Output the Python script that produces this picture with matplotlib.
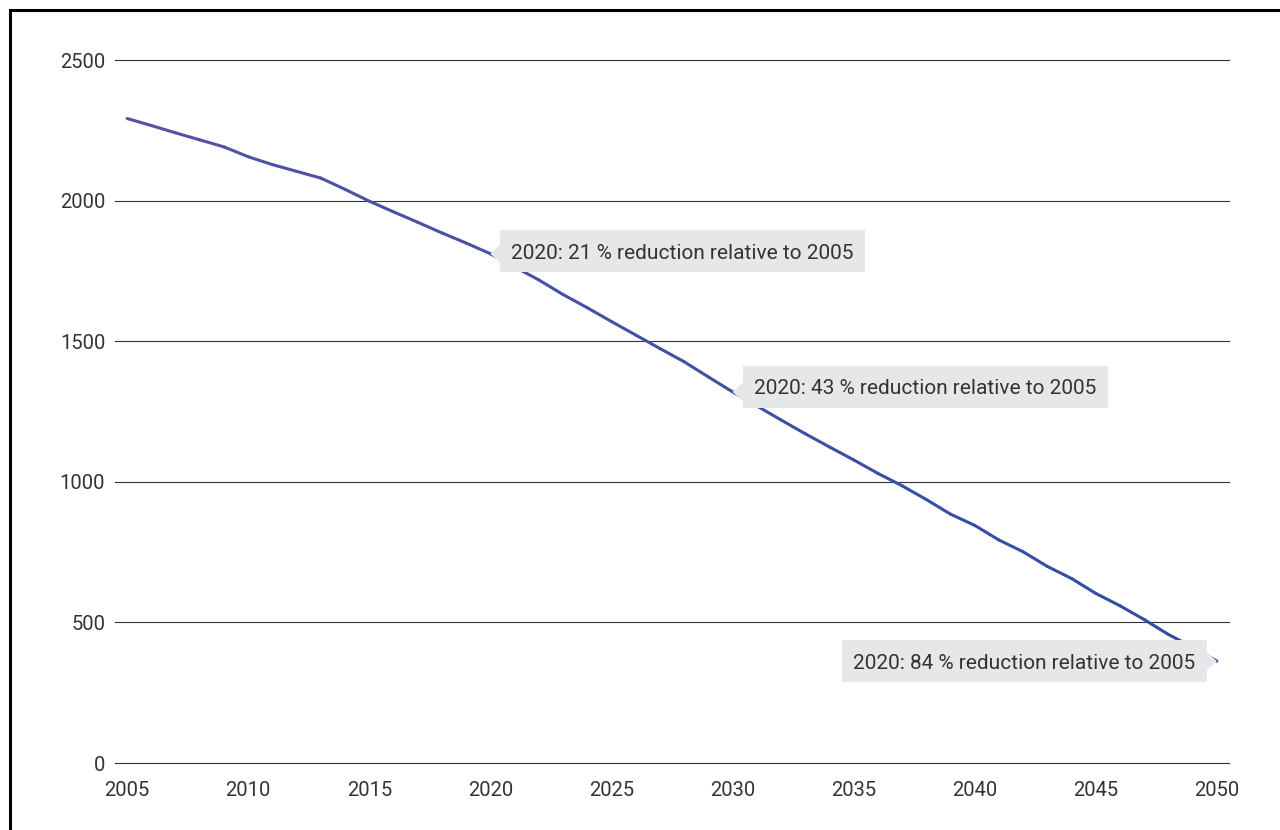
import numpy as np
import matplotlib
matplotlib.use("Agg")
import matplotlib.pyplot as plt
import matplotlib.transforms as mtransforms
from matplotlib.collections import LineCollection
from matplotlib.colors import LinearSegmentedColormap
from matplotlib.patches import Polygon, Rectangle

# Emission pathway, 2005-2050
years = list(range(2005, 2051))
emissions = [
    2292, 2267, 2241, 2216, 2191, 2156, 2128, 2104, 2080, 2040,
    1998, 1960, 1923, 1885, 1849, 1811, 1764, 1718, 1666, 1619,
    1570, 1522, 1474, 1427, 1373, 1320, 1270, 1220, 1171, 1124,
    1078, 1030, 986, 937, 885, 845, 793, 751, 699, 656,
    603, 559, 510, 457, 412, 362,
]

# Callouts: anchor year, text, side of the anchor the box sits on
note_years = [2020, 2030, 2050]
note_texts = [
    "2020: 21 % reduction relative to 2005",
    "2020: 43 % reduction relative to 2005",
    "2020: 84 % reduction relative to 2005",
]
note_sides = ["right", "right", "left"]

y_ticks = [0, 500, 1000, 1500, 2000, 2500]
x_ticks = list(range(2005, 2051, 5))

plt.rcParams["font.family"] = ["Roboto", "DejaVu Sans"]
TEXT = "#333333"

fig = plt.figure(figsize=(12.8, 8.3), dpi=100)
ax = fig.add_axes([115 / 1280, 67 / 830, 1114 / 1280, 703 / 830])

ax.set_xlim(2004.5, 2050.5)
ax.set_ylim(0, 2500)
ax.set_yticks(y_ticks)
ax.set_xticks(x_ticks)
ax.tick_params(axis="both", length=0, labelsize=14.5, labelcolor=TEXT)
ax.tick_params(axis="y", pad=7)
ax.tick_params(axis="x", pad=13)
ax.grid(axis="y", color="#333333", linewidth=0.8)
ax.set_axisbelow(True)
for gl in ax.get_ygridlines():
    gl.set_clip_on(False)
for s in ax.spines.values():
    s.set_visible(False)

# Line with a slight colour gradient from slate to royal blue
x = np.array(years, dtype=float)
y = np.array(emissions, dtype=float)
pts = np.column_stack([x, y]).reshape(-1, 1, 2)
segs = np.concatenate([pts[:-1], pts[1:]], axis=1)
cmap = LinearSegmentedColormap.from_list("pathway", ["#5551a6", "#2e4ea3"])
lc = LineCollection(segs, cmap=cmap, linewidth=2.2, capstyle="round",
                    joinstyle="round", zorder=3)
lc.set_array(np.linspace(0, 1, len(segs)))
ax.add_collection(lc)

# Callout boxes (sizes in inches, relative to the anchor point)
BOX_W, BOX_H, GAP, TRI = 3.65, 0.42, 0.10, 0.10
box_lift = [0.025, 0.05, 0.0]
for yr, txt, side, lift in zip(note_years, note_texts, note_sides, box_lift):
    val = emissions[years.index(yr)]
    trans = fig.dpi_scale_trans + mtransforms.ScaledTranslation(yr, val, ax.transData)
    if side == "right":
        x0, x1 = GAP, GAP + BOX_W
        tri = [(0, 0), (GAP + 0.01, TRI), (GAP + 0.01, -TRI)]
    else:
        x0, x1 = -GAP - BOX_W, -GAP
        tri = [(0, 0), (-GAP - 0.01, TRI), (-GAP - 0.01, -TRI)]
    box = [(x0, lift - BOX_H / 2), (x1, lift - BOX_H / 2),
           (x1, lift + BOX_H / 2), (x0, lift + BOX_H / 2)]
    ax.add_patch(Polygon(box, closed=True, transform=trans, facecolor="#e6e7e8",
                         edgecolor="none", zorder=5, clip_on=False))
    ax.add_patch(Polygon(tri, closed=True, transform=trans, facecolor="#e6e7e8",
                         edgecolor="none", zorder=5, clip_on=False))
    ax.text(x0 + 0.11, lift, txt, transform=trans, fontsize=15, color=TEXT,
            ha="left", va="center_baseline", zorder=6)

# Frame around the figure
fig.patches.append(Rectangle((9.7 / 1280, -0.1), 1.2, (830 - 9.7) / 830 + 0.1,
                             transform=fig.transFigure, fill=False,
                             edgecolor="black", linewidth=2.2))

fig.savefig("out.png", dpi=100, facecolor="white")
